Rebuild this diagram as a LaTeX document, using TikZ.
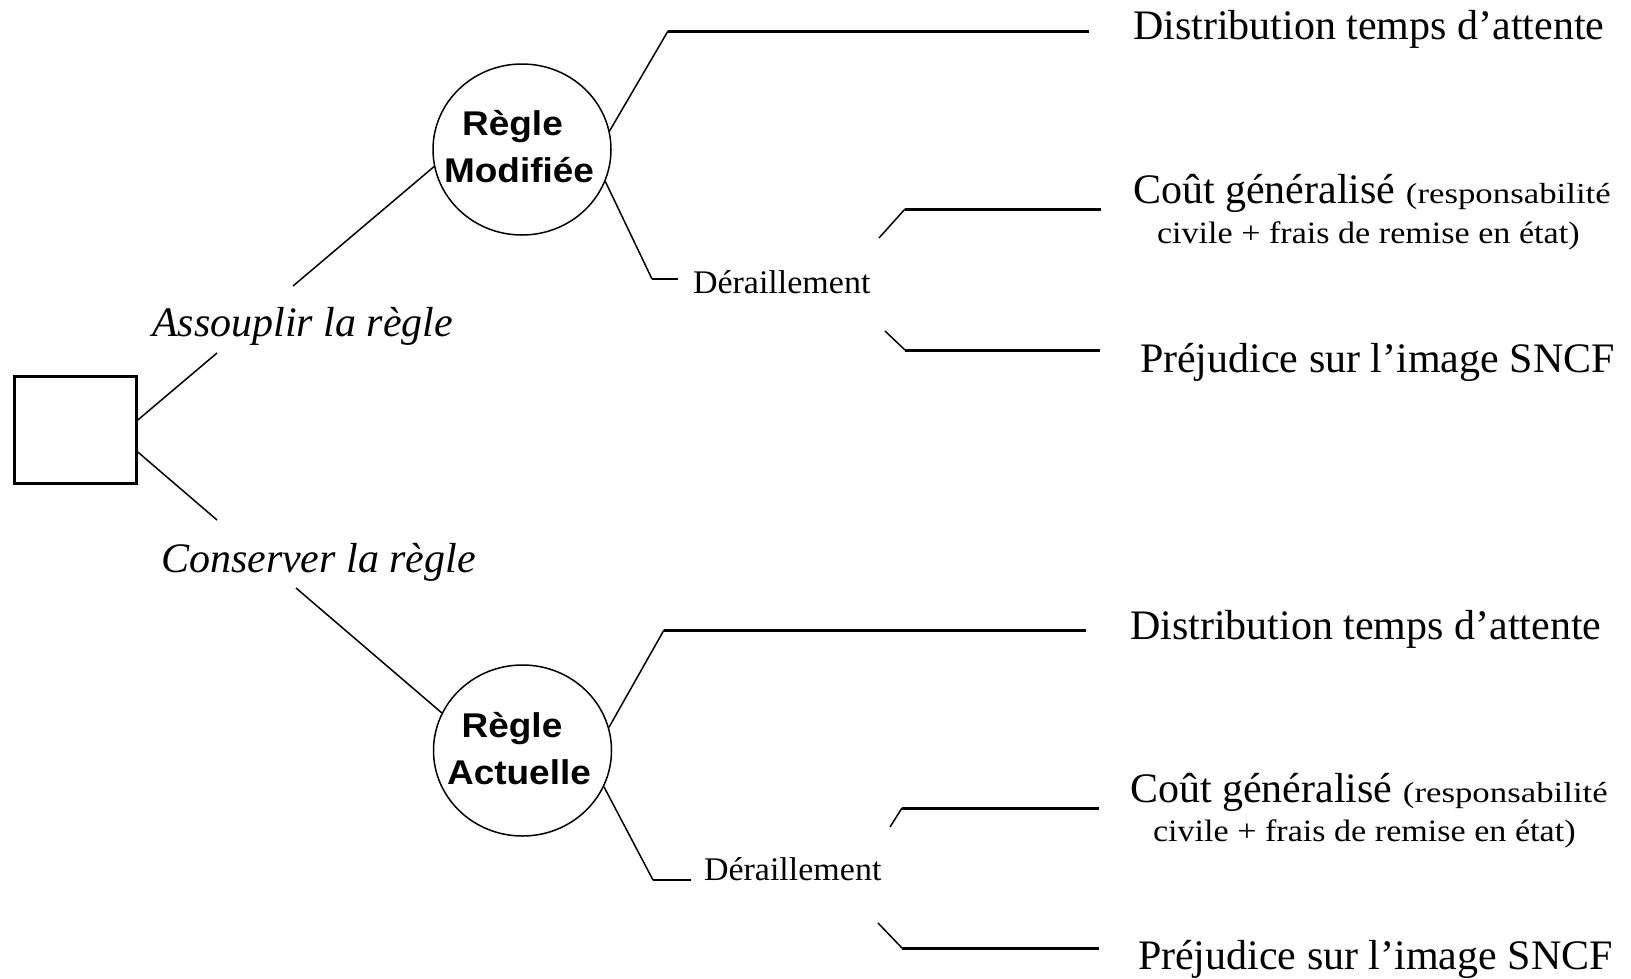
\documentclass[tikz,border=0pt]{standalone}
\usepackage{fontspec}
\setmainfont{Liberation Serif}
\newfontfamily\arialfam{Liberation Sans}
\usetikzlibrary{shapes.geometric,calc}
\begin{document}
\begin{tikzpicture}[x=1pt,y=-1pt,
  thinline/.style={line width=1.5pt},
  midline/.style={line width=2.2pt},
  thickline/.style={line width=3pt},
  txt/.style={anchor=base west, inner sep=0pt, outer sep=0pt},
  bigtxt/.style={txt, font=\fontsize{42}{42}\selectfont},
  ittxt/.style={txt, font=\itshape\fontsize{42}{42}\selectfont},
  midtxt/.style={txt, font=\fontsize{33}{33}\selectfont},
  chance/.style={draw, ellipse, thinline, minimum width=178pt, minimum height=171pt, inner sep=0pt},
  boldtxt/.style={anchor=base, inner sep=0pt, font=\arialfam\bfseries\fontsize{33}{33}\selectfont}
]
\useasboundingbox (0,0) rectangle (1631,978);
\fill[white] (0,0) rectangle (1631,978);

% decision square
\node[draw, line width=3pt, minimum width=122pt, minimum height=107pt, inner sep=0pt] (sq) at (75.3,430) {};

% chance nodes
\node[chance] (cm) at (522,149.5) {};
\node[chance] (ca) at (522.5,750.5) {};
\node[boldtxt] (cmt1) at (512.5,135) {\scalebox{1.12}[1.04]{Règle}};
\node[boldtxt] (cmt2) at (519,182) {\scalebox{1.12}[1.04]{Modifiée}};
\node[boldtxt] (cat1) at (512,737) {\scalebox{1.12}[1.04]{Règle}};
\node[boldtxt] (cat2) at (519,784.5) {\scalebox{1.12}[1.04]{Actuelle}};

% decision labels
\node[ittxt] (lA) at (152,336) {Assouplir la règle};
\node[ittxt] (lC) at (161,572) {Conserver la règle};

\coordinate (a1) at (217,353);
\coordinate (a2) at (293,286);
\draw[thinline] ($(sq.east)+(0,-10)$) -- (a1);
\draw[thinline] (a2) -- (cm.191);
\coordinate (c1) at (217,520);
\coordinate (c2) at (296,588);
\draw[thinline] ($(sq.east)+(0,22)$) -- (c1);
\draw[thinline] (c2) -- (ca.155);

% upper chance branches
\coordinate (m1) at (668,31);
\coordinate (m1e) at (1089,31);
\draw[thinline] (cm.12) -- (m1);
\draw[thickline] (m1) -- (m1e);
\coordinate (m2) at (652,279);
\coordinate (m2e) at (678,279);
\draw[thinline] (cm.339) -- (m2);
\draw[midline] (m2) -- (m2e);
\node[midtxt] (dU) at (693,293) {\scalebox{1.03}[1]{Déraillement}};

\coordinate (d1s) at (879,238);
\coordinate (d1c) at (905,209);
\coordinate (d1e) at (1101,209);
\draw[thinline] (d1s) -- (d1c);
\draw[thickline] (d1c) -- (d1e);
\coordinate (d2s) at (885,331);
\coordinate (d2c) at (905,350);
\coordinate (d2e) at (1100,350);
\draw[thinline] (d2s) -- (d2c);
\draw[thickline] (d2c) -- (d2e);

\node[bigtxt] (oU1) at (1133,39.5) {Distribution temps d’attente};
\node[bigtxt] (oU2) at (1133,203) {Coût généralisé \scalebox{1.2}[1]{\fontsize{29}{29}\selectfont(responsabilité}};
\node[txt] (oU2b) at (1157,243) {\scalebox{1.1}[1]{\fontsize{31}{31}\selectfont civile + frais de remise en état)}};
\node[bigtxt] (oU3) at (1140,372) {Préjudice sur l’image SNCF};

% lower chance branches
\coordinate (n1) at (664,630);
\coordinate (n1e) at (1086,630);
\draw[thinline] (ca.15) -- (n1);
\draw[thickline] (n1) -- (n1e);
\coordinate (n2) at (653,880);
\coordinate (n2e) at (691,880);
\draw[thinline] (ca.336) -- (n2);
\draw[midline] (n2) -- (n2e);
\node[midtxt] (dL) at (704,880) {\scalebox{1.03}[1]{Déraillement}};

\coordinate (e1s) at (890,827);
\coordinate (e1c) at (902,808);
\coordinate (e1e) at (1099,808);
\draw[thinline] (e1s) -- (e1c);
\draw[thickline] (e1c) -- (e1e);
\coordinate (e2s) at (878,923);
\coordinate (e2c) at (902,948);
\coordinate (e2e) at (1099,948);
\draw[thinline] (e2s) -- (e2c);
\draw[thickline] (e2c) -- (e2e);

\node[bigtxt] (oL1) at (1130,639) {Distribution temps d’attente};
\node[bigtxt] (oL2) at (1130,802) {Coût généralisé \scalebox{1.2}[1]{\fontsize{29}{29}\selectfont(responsabilité}};
\node[txt] (oL2b) at (1153,841) {\scalebox{1.1}[1]{\fontsize{31}{31}\selectfont civile + frais de remise en état)}};
\node[bigtxt] (oL3) at (1138,969) {Préjudice sur l’image SNCF};
\end{tikzpicture}
\end{document}
